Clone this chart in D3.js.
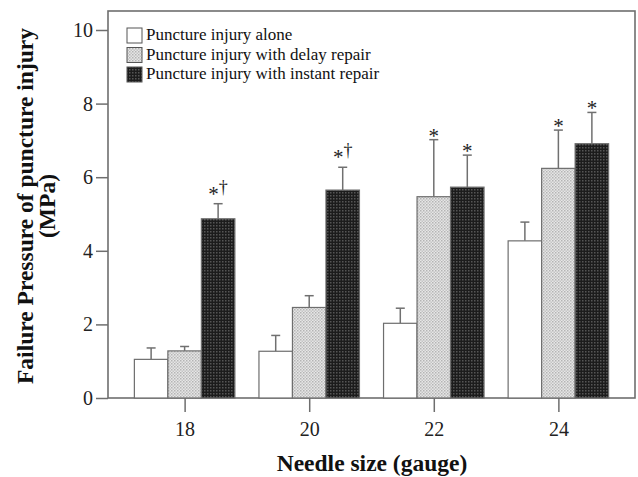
<!DOCTYPE html>
<html>
<head>
<meta charset="utf-8">
<script src="https://cdn.jsdelivr.net/npm/d3@7"></script>
<style>
  body { margin: 0; background: #fff; }
  text { font-family: "Liberation Serif", "Times New Roman", serif; }
</style>
</head>
<body>
<div id="chart"></div>
<script>
// Values (MPa), mean and upper error (SD)
var gauges = ["18", "20", "22", "24"];
var seriesNames = ["Puncture injury alone", "Puncture injury with delay repair", "Puncture injury with instant repair"];
var aloneVals = [1.05, 1.27, 2.03, 4.27];
var aloneErr = [0.31, 0.43, 0.41, 0.51];
var delayVals = [1.28, 2.46, 5.47, 6.24];
var delayErr = [0.12, 0.32, 1.55, 1.04];
var instantVals = [4.87, 5.65, 5.73, 6.91];
var instantErr = [0.41, 0.62, 0.87, 0.85];
var aloneMarks = ["", "", "", ""];
var delayMarks = ["", "", "*", "*"];
var instantMarks = ["*†", "*†", "*", "*"];
var yTicks = [0, 2, 4, 6, 8, 10];

var series = [
    { name: seriesNames[0], vals: aloneVals, err: aloneErr, marks: aloneMarks, fill: "#fff" },
    { name: seriesNames[1], vals: delayVals, err: delayErr, marks: delayMarks, fill: "url(#dotLight)" },
    { name: seriesNames[2], vals: instantVals, err: instantErr, marks: instantMarks, fill: "url(#dotDark)" }
];

var width = 638,
    height = 477;
var pLeft = 108, pRight = 635, pTop = 11, pBottom = 398;

var svg = d3.select("#chart")
    .append("svg")
    .attr("width", width)
    .attr("height", height);

// Stipple patterns for the two shaded bars.
var defs = svg.append("defs");
var pLight = defs.append("pattern").attr("id", "dotLight")
    .attr("width", 3).attr("height", 3).attr("patternUnits", "userSpaceOnUse");
pLight.append("rect").attr("width", 3).attr("height", 3).attr("fill", "#e6e6e6");
pLight.append("rect").attr("width", 1.5).attr("height", 1.5).attr("fill", "#b4b4b4");
pLight.append("rect").attr("x", 1.5).attr("y", 1.5).attr("width", 1.5).attr("height", 1.5).attr("fill", "#c4c4c4");
var pDark = defs.append("pattern").attr("id", "dotDark")
    .attr("width", 3).attr("height", 3).attr("patternUnits", "userSpaceOnUse");
pDark.append("rect").attr("width", 3).attr("height", 3).attr("fill", "#1c1c1c");
pDark.append("rect").attr("width", 1.5).attr("height", 1.5).attr("fill", "#555");

var y = d3.scaleLinear().domain([0, 10]).range([pBottom, 30]);
var x = d3.scalePoint().domain(gauges).range([pLeft, pRight]).padding(0.615);
var barW = 33.5;

// Frame
svg.append("rect")
    .attr("x", pLeft).attr("y", pTop)
    .attr("width", pRight - pLeft).attr("height", pBottom - pTop)
    .attr("fill", "none").attr("stroke", "#6e6e6e").attr("stroke-width", 1.6);

// Bars
series.forEach(function(s, si) {
    var g = svg.append("g");
    var xs = function(i) { return x(gauges[i]) + (si - 1.5) * barW; };
    g.selectAll("line.err")
        .data(s.vals)
        .enter()
        .append("line")
        .attr("x1", function(d, i) { return xs(i) + barW / 2; })
        .attr("x2", function(d, i) { return xs(i) + barW / 2; })
        .attr("y1", function(d) { return y(d); })
        .attr("y2", function(d, i) { return y(d + s.err[i]); })
        .attr("stroke", "#707070").attr("stroke-width", 1.5);
    g.selectAll("line.cap")
        .data(s.vals)
        .enter()
        .append("line")
        .attr("x1", function(d, i) { return xs(i) + barW / 2 - 4.5; })
        .attr("x2", function(d, i) { return xs(i) + barW / 2 + 4.5; })
        .attr("y1", function(d, i) { return y(d + s.err[i]); })
        .attr("y2", function(d, i) { return y(d + s.err[i]); })
        .attr("stroke", "#707070").attr("stroke-width", 1.5);
    g.selectAll("rect")
        .data(s.vals)
        .enter()
        .append("rect")
        .attr("x", function(d, i) { return xs(i); })
        .attr("y", function(d) { return y(d); })
        .attr("width", barW)
        .attr("height", function(d) { return pBottom - y(d); })
        .attr("fill", s.fill)
        .attr("stroke", "#6e6e6e").attr("stroke-width", 1.2);
    // significance marks
    g.selectAll("text")
        .data(s.marks)
        .enter()
        .append("text")
        .attr("x", function(d, i) { return xs(i) + barW / 2; })
        .attr("y", function(d, i) { return y(s.vals[i] + s.err[i]) + (d.length > 1 ? -3 : 3); })
        .attr("text-anchor", "middle")
        .attr("font-size", 21)
        .attr("fill", "#222")
        .each(function(d) {
            var t = d3.select(this);
            t.append("tspan").text(d.charAt(0));
            if (d.length > 1) t.append("tspan").attr("dy", -8).attr("font-size", 18).text(d.slice(1));
        });
});

// Y axis
var yAxis = svg.append("g")
    .attr("transform", "translate(" + pLeft + ",0)")
    .call(d3.axisLeft(y).tickValues(yTicks).tickSize(12).tickPadding(3));
yAxis.select(".domain").remove();
yAxis.selectAll("line").attr("stroke", "#6e6e6e").attr("stroke-width", 1.5);
yAxis.selectAll("text").attr("font-size", 20).attr("fill", "#222")
    .style("font-family", "Liberation Serif");

// X axis
var xAxis = svg.append("g")
    .attr("transform", "translate(0," + pBottom + ")")
    .call(d3.axisBottom(x).tickSize(14).tickPadding(10));
xAxis.select(".domain").remove();
xAxis.selectAll("line").attr("stroke", "#6e6e6e").attr("stroke-width", 1.5);
xAxis.selectAll("text").attr("font-size", 20).attr("fill", "#222")
    .style("font-family", "Liberation Serif");

// Axis titles
svg.append("text")
    .attr("x", 372).attr("y", 471)
    .attr("text-anchor", "middle")
    .attr("font-size", 23.5).attr("font-weight", "bold").attr("fill", "#111")
    .text("Needle size (gauge)");
var yl = svg.append("text")
    .attr("transform", "translate(33,206) rotate(-90)")
    .attr("text-anchor", "middle")
    .attr("font-size", 23.5).attr("font-weight", "bold").attr("fill", "#111");
yl.append("tspan").attr("x", 0).attr("y", 0).text("Failure Pressure of puncture injury");
yl.append("tspan").attr("x", 0).attr("y", 22).text("(MPa)");

// Legend
var legend = svg.append("g");
series.forEach(function(s, i) {
    var ly = 28 + i * 19.5;
    legend.append("rect")
        .attr("x", 127).attr("y", ly)
        .attr("width", 15).attr("height", 15)
        .attr("fill", s.fill).attr("stroke", "#555").attr("stroke-width", 1);
    legend.append("text")
        .attr("x", 146).attr("y", ly + 12)
        .attr("font-size", 17).attr("fill", "#111")
        .text(s.name);
});
</script>
</body>
</html>
